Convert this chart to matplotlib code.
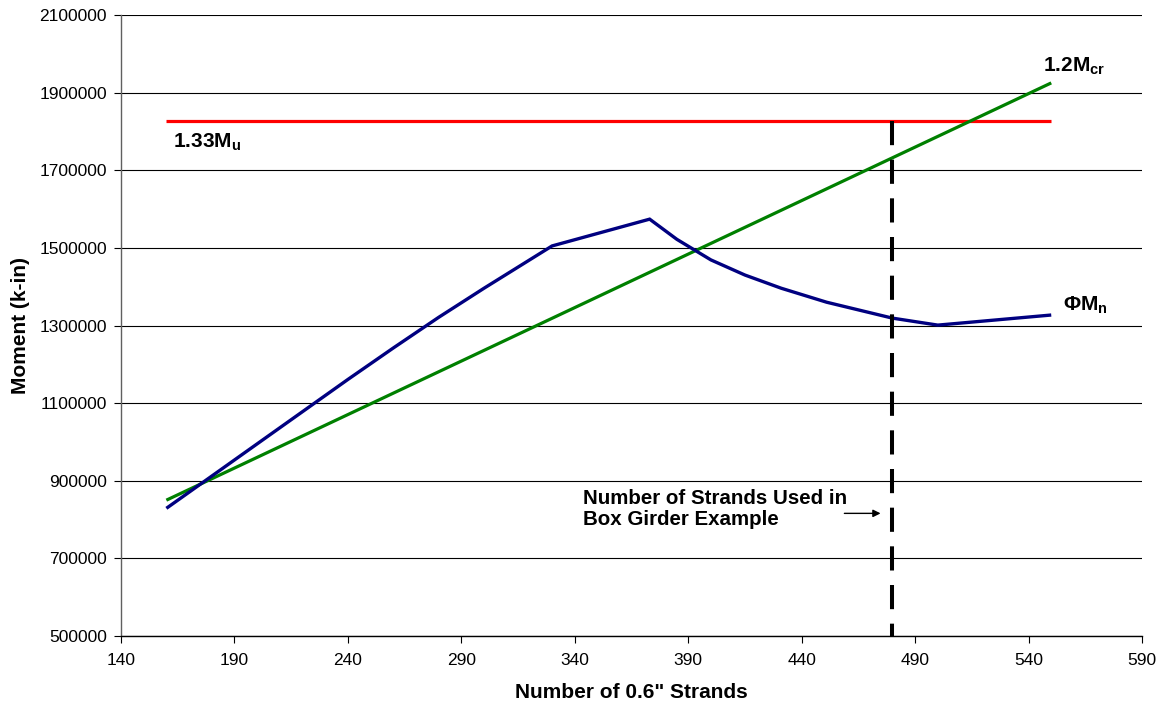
import matplotlib
matplotlib.use("Agg")
import matplotlib.pyplot as plt

plt.rcParams['font.family'] = ['Liberation Sans', 'DejaVu Sans']
plt.rcParams['mathtext.fontset'] = 'custom'
plt.rcParams['mathtext.rm'] = 'Liberation Sans'
plt.rcParams['mathtext.bf'] = 'Liberation Sans:bold'

# Nominal flexural strength (phi*Mn) vs. number of strands
strands_phi = [160, 200, 240, 260, 280, 300, 330, 373, 385, 400, 415, 431, 451, 480, 500, 550]
phi_mn = [829000, 995000, 1161000, 1242000, 1321000, 1396000, 1505000, 1574000, 1522000,
          1469000, 1430000, 1396000, 1360000, 1319000, 1301000, 1327000]

# Cracking moment limit (1.2 Mcr)
strands_cr = [160, 550]
mcr_12 = [850000, 1925000]

# Factored load limit (1.33 Mu)
strands_mu = [160, 550]
mu_133 = [1827000, 1827000]

# Strand count chosen for the box girder example
strands_used = 480

x_ticks = list(range(140, 591, 50))
y_ticks = list(range(500000, 2100001, 200000))

fig = plt.figure(figsize=(11.69, 7.07), dpi=100)
ax = fig.add_axes([0.1035, 0.1004, 0.8734, 0.8784])

ax.set_xlim(140, 590)
ax.set_ylim(500000, 2100000)
ax.set_xticks(x_ticks)
ax.set_yticks(y_ticks)
ax.set_xticklabels([str(v) for v in x_ticks], fontsize=12.5)
ax.set_yticklabels([str(v) for v in y_ticks], fontsize=12.5)

ax.yaxis.grid(True, color='black', linewidth=0.8)
ax.set_axisbelow(True)
ax.tick_params(axis='both', direction='out', length=5, width=0.8, color='black')
ax.tick_params(axis='x', pad=7)
ax.tick_params(axis='y', pad=5)

for side in ['top', 'right']:
    ax.spines[side].set_visible(False)
ax.spines['left'].set_color('#606060')
ax.spines['left'].set_linewidth(1.0)
ax.spines['bottom'].set_color('black')
ax.spines['bottom'].set_linewidth(1.0)

ax.plot(strands_mu, mu_133, color='#FF0000', linewidth=2.3, solid_capstyle='butt', zorder=3)
ax.plot(strands_cr, mcr_12, color='#008000', linewidth=2.3, solid_capstyle='butt', zorder=4)
ax.plot(strands_phi, phi_mn, color='#000080', linewidth=2.4, solid_capstyle='butt',
        solid_joinstyle='miter', zorder=5)

ax.plot([strands_used, strands_used], [mu_133[0], 500000], color='black', linewidth=2.9,
        linestyle=(0, (6.0, 3.6)), zorder=6, clip_on=False)

ax.text(163, 1773000, r'$\mathbf{1.33M_u}$', fontsize=15, ha='left', va='center')
ax.text(546.5, 1968000, r'$\mathbf{1.2M_{cr}}$', fontsize=15, ha='left', va='center')
ax.text(555, 1352000, r'$\mathbf{\Phi M_n}$', fontsize=15, ha='left', va='center')

ax.text(343.6, 827000, 'Number of Strands Used in\nBox Girder Example', fontsize=14.8,
        fontweight='bold', ha='left', va='center', linespacing=1.15)
ax.annotate('', xy=(476, 816000), xytext=(457.6, 816000),
            arrowprops=dict(arrowstyle='-|>', color='black', lw=1.0, mutation_scale=11))

ax.set_xlabel('Number of 0.6" Strands', fontsize=15, fontweight='bold', labelpad=11)
ax.set_ylabel('Moment (k-in)', fontsize=15, fontweight='bold', labelpad=7)

fig.savefig('out.png', dpi=100)
